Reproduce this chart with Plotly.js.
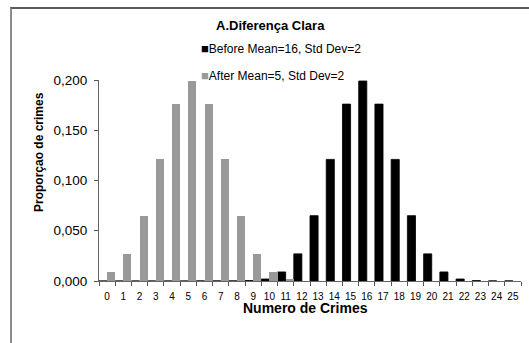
<!DOCTYPE html>
<html>
<head>
<meta charset="utf-8">
<script src="https://cdn.plot.ly/plotly-3.0.1.min.js"></script>
<style>
  html, body { margin: 0; padding: 0; background: #ffffff; }
  #chart { width: 529px; height: 343px; }
  #frame {
    position: absolute; left: 10px; top: 7px; width: 540px; height: 360px;
    border-left: 2px solid #8c8c8c; border-top: 2px solid #5a5a5a;
    pointer-events: none;
  }
</style>
</head>
<body>
<div id="chart"></div>
<div id="frame"></div>
<script>
// Number of crimes (categories on the x axis)
const crimeCounts = ['0','1','2','3','4','5','6','7','8','9','10','11','12',
                     '13','14','15','16','17','18','19','20','21','22','23','24','25'];

// Share of crimes before the intervention (mean 16, sd 2)
const beforeShare = [0, 0, 0, 0, 0, 0, 0.0001, 0.0001, 0.0001, 0.0004, 0.002, 0.009, 0.027,
                     0.065, 0.121, 0.176, 0.199, 0.176, 0.121, 0.065, 0.027, 0.009, 0.002,
                     0.0004, 0.0001, 0.0001];

// Share of crimes after the intervention (mean 5, sd 2)
const afterShare = [0.009, 0.027, 0.065, 0.121, 0.176, 0.199, 0.176, 0.121, 0.065, 0.027,
                    0.009, 0.002, 0.0004, 0.0001, 0, 0, 0, 0, 0, 0, 0, 0, 0, 0, 0, 0];

const beforeName = 'Before Mean=16, Std Dev=2';
const afterName = 'After Mean=5, Std Dev=2';
const chartTitle = 'A.Diferença Clara';
const xTitle = 'Numero de Crimes';
const yTitle = 'Proporçao de crimes';

const beforeColor = '#000000';
const afterColor = '#999999';

// plot-area margins in pixels, and helpers turning pixel spots into paper coords
const W = 529, H = 343, M = {l: 99, r: 8, t: 80, b: 62};
const px = x => (x - M.l) / (W - M.l - M.r);
const py = y => (H - M.b - y) / (H - M.t - M.b);

const font = 'Liberation Sans, Arial, sans-serif';

const traces = [
  {
    type: 'bar', name: beforeName, x: crimeCounts, y: beforeShare,
    marker: {color: beforeColor, line: {color: beforeColor, width: 0.8}},
    hoverinfo: 'x+y'
  },
  {
    type: 'bar', name: afterName, x: crimeCounts, y: afterShare,
    marker: {color: afterColor},
    hoverinfo: 'x+y'
  }
];

const legendKey = (color, label) =>
  '<span style="color:' + color + ';font-size:13px">■</span>' + label;

const layout = {
  width: W, height: H,
  margin: M,
  paper_bgcolor: 'rgba(0,0,0,0)',
  plot_bgcolor: 'rgba(0,0,0,0)',
  separators: ', ',
  barmode: 'group',
  bargap: 0,
  bargroupgap: 0,
  showlegend: false,
  font: {family: font, color: '#000000'},
  xaxis: {
    type: 'category',
    range: [-0.5, 25.5],
    tickson: 'boundaries',
    tickangle: 0,
    ticks: 'outside', ticklen: 4, tickcolor: '#555555', tickwidth: 1,
    showline: true, linecolor: '#666666', linewidth: 1,
    showgrid: false, zeroline: false,
    tickfont: {size: 10, family: font, color: '#000000'},
    ticklabelstandoff: 6
  },
  yaxis: {
    range: [0, 0.2],
    dtick: 0.05,
    tickformat: '.3f',
    ticks: 'outside', ticklen: 4, tickcolor: '#555555', tickwidth: 1,
    showline: true, linecolor: '#666666', linewidth: 1,
    showgrid: false, zeroline: false,
    tickfont: {size: 13.5, family: font, color: '#000000'},
    ticklabelstandoff: 4
  },
  annotations: [
    {text: '<b>' + chartTitle + '</b>', xref: 'paper', yref: 'paper',
     x: px(270), y: py(26), xanchor: 'center', yanchor: 'middle', showarrow: false,
     font: {size: 13, family: font}},
    {text: legendKey(beforeColor, beforeName), xref: 'paper', yref: 'paper',
     x: px(199), y: py(49), xanchor: 'left', yanchor: 'middle', showarrow: false,
     font: {size: 12, family: font}},
    {text: legendKey(afterColor, afterName), xref: 'paper', yref: 'paper',
     x: px(199), y: py(75), xanchor: 'left', yanchor: 'middle', showarrow: false,
     font: {size: 12, family: font}},
    {text: '<b>' + yTitle + '</b>', xref: 'paper', yref: 'paper', textangle: -90,
     x: px(39), y: py(152), xanchor: 'center', yanchor: 'middle', showarrow: false,
     font: {size: 12, family: font}},
    {text: '<b>' + xTitle + '</b>', xref: 'paper', yref: 'paper',
     x: px(305), y: py(308), xanchor: 'center', yanchor: 'middle', showarrow: false,
     font: {size: 14, family: font}}
  ]
};

Plotly.newPlot('chart', traces, layout, {displayModeBar: false, staticPlot: true});
</script>
</body>
</html>
